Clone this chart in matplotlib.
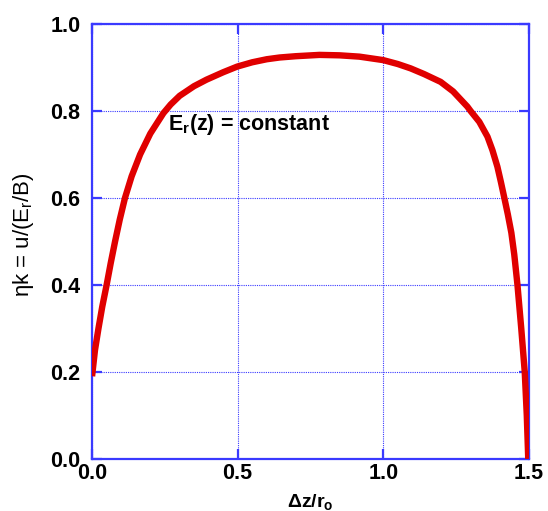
import matplotlib
matplotlib.use("Agg")
import matplotlib.pyplot as plt

plt.rcParams['font.family'] = ['Liberation Sans', 'DejaVu Sans']
plt.rcParams['mathtext.fontset'] = 'custom'
plt.rcParams['mathtext.rm'] = 'Liberation Sans'
plt.rcParams['mathtext.bf'] = 'Liberation Sans:bold'
plt.rcParams['mathtext.it'] = 'Liberation Sans:italic'

# Data
dz = [0.0, 0.005, 0.010, 0.022, 0.035, 0.050, 0.064, 0.079, 0.095, 0.113,
      0.136, 0.165, 0.200, 0.245, 0.270, 0.301, 0.350, 0.393, 0.450, 0.498,
      0.550, 0.600, 0.644, 0.700, 0.781, 0.850, 0.918, 1.000, 1.050, 1.094,
      1.140, 1.197, 1.240, 1.289, 1.300, 1.330, 1.358, 1.375, 1.392, 1.404,
      1.415, 1.428, 1.440, 1.450, 1.461, 1.474, 1.486, 1.493, 1.498]
eta = [0.19, 0.22, 0.25, 0.30, 0.35, 0.40, 0.45, 0.50, 0.55, 0.60,
       0.65, 0.70, 0.748, 0.795, 0.815, 0.835, 0.857, 0.872, 0.889, 0.902,
       0.912, 0.919, 0.923, 0.926, 0.929, 0.928, 0.925, 0.917, 0.908, 0.898,
       0.885, 0.867, 0.845, 0.810, 0.800, 0.775, 0.741, 0.710, 0.672, 0.637,
       0.603, 0.562, 0.520, 0.470, 0.400, 0.300, 0.200, 0.100, 0.0]

xticks = [0.0, 0.5, 1.0, 1.5]
yticks = [0.0, 0.2, 0.4, 0.6, 0.8, 1.0]
xticklabels = ["0.0", "0.5", "1.0", "1.5"]
yticklabels = ["0.0", "0.2", "0.4", "0.6", "0.8", "1.0"]

axis_blue = '#3a3aff'
fig = plt.figure(figsize=(5.48, 5.11), dpi=100)
ax = fig.add_axes([0.168, 0.102, 0.797, 0.851])

ax.plot(dz, eta, color='#e00000', lw=4.6, solid_capstyle='butt',
        solid_joinstyle='round', zorder=3)

ax.set_xlim(0, 1.5)
ax.set_ylim(0, 1.0)
ax.set_xticks(xticks)
ax.set_xticklabels(xticklabels)
ax.set_yticks(yticks)
ax.set_yticklabels(yticklabels)
ax.grid(True, color=axis_blue, linestyle=(0, (1, 1)), linewidth=0.8)
for s in ax.spines.values():
    s.set_color(axis_blue)
    s.set_linewidth(1.6)
ax.tick_params(direction='in', length=7, width=1.6, color=axis_blue,
               top=True, right=True, labelsize=15.5)
ax.tick_params(axis='x', pad=3)
ax.tick_params(axis='y', pad=8.5)
for lab in ax.get_xticklabels() + ax.get_yticklabels():
    lab.set_fontweight('bold')

ax.set_xlabel(r"Δz/r$_\mathbf{o}$", fontsize=14, fontweight='bold')
ax.xaxis.set_label_coords(0.5, -0.077)
ax.set_ylabel(r"ηk = u/(E$_\mathrm{r}$/B)", fontsize=16)
ax.yaxis.set_label_coords(-0.128, 0.515)

ax.text(0.262, 0.770, r"E$_\mathbf{r}$(z) = constant", fontsize=15.5,
        fontweight='bold', va='center', ha='left', zorder=4)

fig.savefig("out.png", dpi=100)
